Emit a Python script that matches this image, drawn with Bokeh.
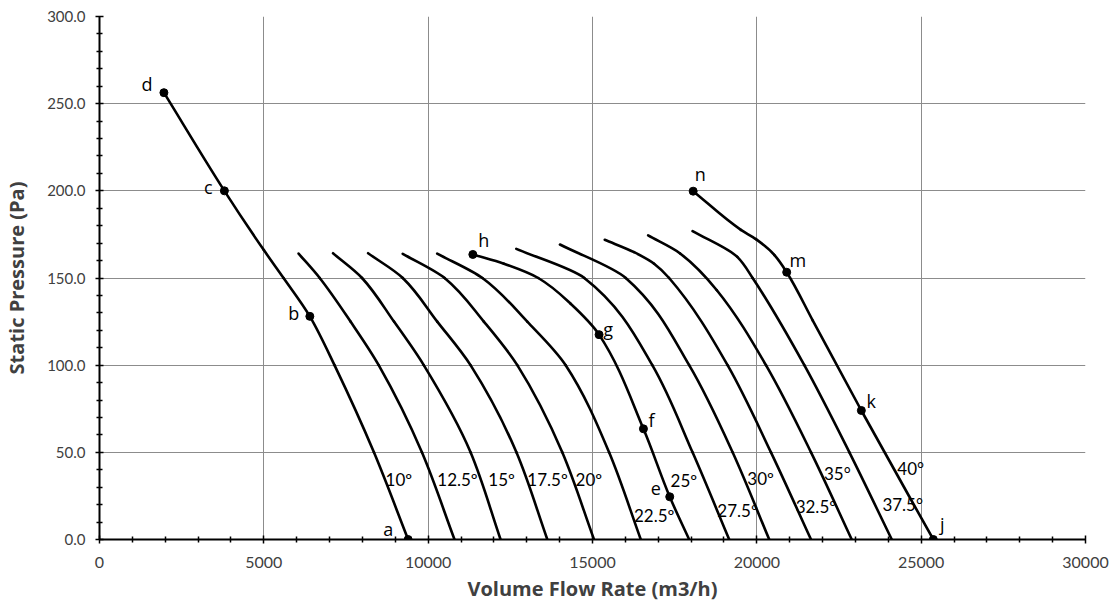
from bokeh.plotting import figure
from bokeh.models import Range1d, FixedTicker, NumeralTickFormatter, ColumnDataSource
from bokeh.core.properties import value
from bokeh.embed import file_html
from bokeh.resources import INLINE

# ---- data ----
angle_names = ["10º", "12.5º", "15º", "17.5º", "20º", "22.5º", "25º",
               "27.5º", "30º", "32.5º", "35°", "37.5°", "40°"]

q_10 = [1960, 3800, 5000, 5600, 6400, 7150, 8350, 9391]
p_10 = [256.3, 200, 166, 150, 128, 100, 50, 0]
q_12_5 = [6058, 6700, 7638, 8495, 9810, 10802]
p_12_5 = [164, 150, 125, 100, 50, 0]
q_15 = [7105, 7988, 8960, 9866, 11290, 12203]
p_15 = [164.2, 150, 125, 100, 50, 0]
q_17_5 = [8172, 9227, 10276, 11289, 12685, 13626]
p_17_5 = [164.2, 150, 125, 100, 50, 0]
q_20 = [9227, 10500, 11694, 12712, 14080, 15046]
p_20 = [163.9, 150, 125, 100, 50, 0]
q_22_5 = [10274, 11650, 13015, 14184, 15505, 16469]
p_22_5 = [164, 150, 125, 100, 50, 0]
q_25 = [11359, 12304, 13350, 14336, 15200, 16550, 17350, 17941]
p_25 = [163.5, 158.2, 150, 135.2, 117.5, 63.5, 24.5, 0]
q_27_5 = [12682, 14750, 16820, 18044, 19160]
p_27_5 = [166.7, 150, 100, 50, 0]
q_30 = [14010, 16012, 17941, 19263, 20378]
p_30 = [169.2, 150, 100, 50, 0]
q_32_5 = [15372, 16265, 16874, 17331, 19110, 20430, 21649]
p_32_5 = [171.9, 164.8, 158.2, 150, 100, 50, 0]
q_35 = [16692, 17666, 18783, 20278, 21649, 22888]
p_35 = [174.4, 164.1, 143, 100, 50, 0]
q_37_5 = [18044, 19405, 19872, 21445, 22816, 24107]
p_37_5 = [176.9, 162.1, 150, 100, 50, 0]
q_40 = [18063, 19515, 19973, 20530, 20909, 21703, 23180, 25370]
p_40 = [199.8, 177.6, 172.3, 163.3, 153.3, 125.6, 74, 0]

point_names = ["d", "c", "b", "a", "h", "g", "f", "e", "n", "m", "k", "j"]
point_q = [1960, 3800, 6400, 9391, 11359, 15200, 16550, 17350, 18063, 20909, 23180, 25370]
point_p = [256.3, 200, 128, 0, 163.5, 117.5, 63.5, 24.5, 199.8, 153.3, 74, 0]

x_ticks = [0, 5000, 10000, 15000, 20000, 25000, 30000]
y_ticks = [0, 50, 100, 150, 200, 250, 300]

# ---- styles / positions (not data) ----
point_dx = [-17, -16, -16, -20, 11, 9, 8, -14, 7, 11, 10, 9]
point_dy = [-9, -4, -3, -11, -14, -6, -9, -8, -17, -12, -9, -16]
angle_lab_q = [8704, 10277, 11829, 13016, 14486, 16260, 17377, 18798, 19711, 21181, 22042, 23820, 24276]
angle_lab_p = [34.2, 34.2, 34.2, 34.2, 34.2, 13.8, 33.8, 16.6, 34.8, 18.9, 37.7, 19.9, 40.6]

curves = [(q_10, p_10), (q_12_5, p_12_5), (q_15, p_15), (q_17_5, p_17_5), (q_20, p_20),
          (q_22_5, p_22_5), (q_25, p_25), (q_27_5, p_27_5), (q_30, p_30), (q_32_5, p_32_5),
          (q_35, p_35), (q_37_5, p_37_5), (q_40, p_40)]

p = figure(frame_width=986, frame_height=523, output_backend="svg", toolbar_location=None,
           x_range=Range1d(0, 30000), y_range=Range1d(0, 300),
           min_border_left=99, min_border_top=16, min_border_right=24, min_border_bottom=68)
p.outline_line_color = None
p.background_fill_color = "white"

xminor = [v for v in range(0, 30001, 1000) if v % 5000]
yminor = [v for v in range(0, 301, 10) if v % 50]
p.xaxis.ticker = FixedTicker(ticks=x_ticks, minor_ticks=xminor)
p.yaxis.ticker = FixedTicker(ticks=y_ticks, minor_ticks=yminor)
p.yaxis.formatter = NumeralTickFormatter(format="0.0")
p.xaxis.formatter = NumeralTickFormatter(format="0")

for ax in (p.xaxis[0], p.yaxis[0]):
    ax.axis_line_color = "black"
    ax.axis_line_width = 2
    ax.major_tick_line_color = "black"
    ax.minor_tick_line_color = "black"
    ax.major_tick_line_width = 1.5
    ax.minor_tick_line_width = 1.5
    ax.major_tick_in = 4
    ax.major_tick_out = 4
    ax.minor_tick_in = 3
    ax.minor_tick_out = 3
    ax.major_label_text_font = "Lato"
    ax.major_label_text_color = "#404040"
    ax.axis_label_text_font = "Open Sans"
    ax.axis_label_text_font_style = "bold"
    ax.axis_label_text_color = "#404040"
    ax.axis_label_text_font_size = "20px"

p.xaxis.major_label_text_font_size = "16px"
p.yaxis.major_label_text_font_size = "15px"
p.xaxis.major_label_standoff = 13
p.yaxis.major_label_standoff = 10
p.xaxis.axis_label = "Volume Flow Rate (m3/h)"
p.yaxis.axis_label = "Static Pressure (Pa)"
p.xaxis.axis_label_standoff = 4
p.yaxis.axis_label_standoff = 14

for g in (p.xgrid[0], p.ygrid[0]):
    g.grid_line_color = "#8c8c8c"
    g.grid_line_width = 1


def smooth_segments(qs, ps):
    """Shape-preserving cubic (PCHIP, parametrised on pressure) through the
    read points, expressed as Bezier segments so Bokeh draws it on its scales."""
    n = len(qs)
    h = [ps[k + 1] - ps[k] for k in range(n - 1)]
    d = [(qs[k + 1] - qs[k]) / h[k] for k in range(n - 1)]
    m = [0.0] * n
    m[0], m[-1] = d[0], d[-1]
    for k in range(1, n - 1):
        if d[k - 1] * d[k] <= 0:
            m[k] = 0.0
        else:
            w1 = 2 * h[k] + h[k - 1]
            w2 = h[k] + 2 * h[k - 1]
            m[k] = (w1 + w2) / (w1 / d[k - 1] + w2 / d[k])
    seg = dict(x0=[], y0=[], x1=[], y1=[], cx0=[], cy0=[], cx1=[], cy1=[])
    for k in range(n - 1):
        seg["x0"].append(qs[k]); seg["y0"].append(ps[k])
        seg["x1"].append(qs[k + 1]); seg["y1"].append(ps[k + 1])
        seg["cx0"].append(qs[k] + m[k] * h[k] / 3.0)
        seg["cy0"].append(ps[k] + h[k] / 3.0)
        seg["cx1"].append(qs[k + 1] - m[k + 1] * h[k] / 3.0)
        seg["cy1"].append(ps[k + 1] - h[k] / 3.0)
    return seg


for qs, ps in curves:
    s = smooth_segments(qs, ps)
    p.bezier(x0="x0", y0="y0", x1="x1", y1="y1", cx0="cx0", cy0="cy0", cx1="cx1", cy1="cy1",
             source=ColumnDataSource(s), line_color="black", line_width=2.6, line_cap="round")

p.scatter(point_q, point_p, size=8, color="black")

src = ColumnDataSource(dict(x=point_q, y=point_p, t=point_names, dx=point_dx, dy=point_dy))
p.text(x="x", y="y", text="t", x_offset="dx", y_offset="dy", source=src,
       text_font=value("Open Sans"), text_font_size="18px", text_color="black",
       text_align="center", text_baseline="middle")

src2 = ColumnDataSource(dict(x=angle_lab_q, y=angle_lab_p, t=angle_names))
p.text(x="x", y="y", text="t", source=src2, text_font=value("Lato"),
       text_font_size="17px", text_color="black", text_align="left", text_baseline="middle")

open("out.html", "w").write(file_html(p, INLINE))
